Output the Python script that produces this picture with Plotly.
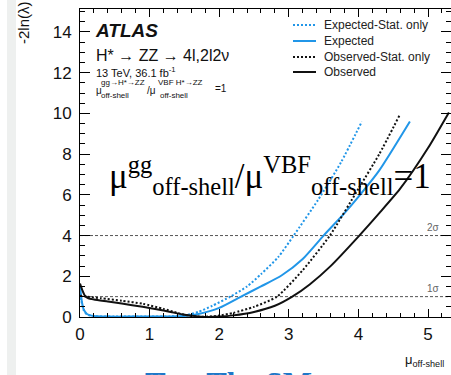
import plotly.graph_objects as go

# ---------------- data ----------------
obs_x = [0, 0.03, 0.07, 0.12, 0.2, 0.4, 0.6, 0.9, 1.1, 1.3, 1.5, 1.7, 1.85, 2.0, 2.2, 2.5, 2.8,
         3.05, 3.3, 3.6, 4.0, 4.3, 4.6, 5.0, 5.3]
obs_y = [1.64, 1.35, 1.05, 0.92, 0.86, 0.76, 0.66, 0.5, 0.38, 0.25, 0.11, 0.03, 0.0, 0.02, 0.08, 0.25, 0.55,
         1.0, 1.6, 2.5, 3.95, 5.1, 6.3, 8.3, 10.05]

obs_stat_x = [0, 0.1, 0.3, 0.6, 0.9, 1.2, 1.4, 1.55, 1.7, 1.85, 2.0, 2.2, 2.5, 2.83, 3.2, 3.59, 4.0, 4.3, 4.59]
obs_stat_y = [1.05, 1.0, 0.92, 0.8, 0.65, 0.4, 0.2, 0.08, 0.02, 0.02, 0.07, 0.2, 0.5, 1.0, 2.3, 4.0, 6.3, 8.0, 9.9]

exp_x = [0, 0.02, 0.05, 0.1, 0.2, 0.4, 0.8, 1.2, 1.5, 1.7, 2.0, 2.3, 2.6, 2.9, 3.2, 3.5, 3.8, 4.0, 4.3, 4.74]
exp_y = [1.55, 0.9, 0.4, 0.15, 0.05, 0.02, 0.02, 0.02, 0.05, 0.15, 0.45, 0.98, 1.5, 2.05, 2.85, 4.0, 5.1, 5.9, 7.2, 9.6]

exp_stat_x = [0, 0.02, 0.05, 0.1, 0.2, 0.5, 1.0, 1.3, 1.5, 1.7, 1.9, 2.16, 2.4, 2.6, 2.85, 3.07, 3.42, 3.75, 4.05]
exp_stat_y = [1.35, 0.8, 0.35, 0.12, 0.04, 0.02, 0.02, 0.03, 0.07, 0.25, 0.55, 1.0, 1.5, 2.1, 2.95, 4.0, 5.75, 7.6, 9.6]

x_ticks = [0, 1, 2, 3, 4, 5]
y_ticks = [0, 2, 4, 6, 8, 10, 12, 14]
sigma_levels = [1, 4]
sigma_labels = ["1σ", "2σ"]
legend_names = ["Expected-Stat. only", "Expected", "Observed-Stat. only", "Observed"]

# ---------------- styling ----------------
BLUE = "#2196e8"
BLACK = "#111111"
SANS = "Liberation Sans, Arial, sans-serif"
SERIF = "Liberation Serif, Times New Roman, serif"

W, H = 451, 375
L, R, T, B = 80, 451, 9, 317


def px(x):
    return (x - L) / (R - L)


def py(y):
    return (B - y) / (B - T)


series = [
    (exp_stat_x, exp_stat_y, BLUE, "2px,2px", legend_names[0]),
    (exp_x, exp_y, BLUE, "solid", legend_names[1]),
    (obs_stat_x, obs_stat_y, BLACK, "2px,2px", legend_names[2]),
    (obs_x, obs_y, BLACK, "solid", legend_names[3]),
]

fig = go.Figure()
for xs, ys, col, dash, name in series:
    fig.add_trace(go.Scatter(x=xs, y=ys, mode="lines", name=name, showlegend=False,
                             line=dict(color=col, width=2, dash=dash, shape="spline", smoothing=0.6)))

shapes = []
annotations = []

# sigma reference lines
for lvl, lab in zip(sigma_levels, sigma_labels):
    shapes.append(dict(type="line", xref="paper", yref="y", x0=0, x1=1, y0=lvl, y1=lvl,
                       line=dict(color="#555555", width=1, dash="3px,2px"), layer="below"))
    annotations.append(dict(text=lab, xref="paper", yref="y", x=px(425), y=lvl, xanchor="left",
                            yanchor="bottom", yshift=1, showarrow=False,
                            font=dict(family=SANS, size=10, color="#666666")))

# grey strip at left (page background)
shapes.append(dict(type="rect", xref="paper", yref="paper", x0=px(7), x1=px(16), y0=py(376), y1=py(-1),
                   fillcolor="#eef0ef", line=dict(width=0), layer="below"))

# manual legend
leg_rows = [25, 41, 57, 72]
for (xs, ys, col, dash, name), ry in zip(series, leg_rows):
    shapes.append(dict(type="line", xref="paper", yref="paper", x0=px(293), x1=px(316), y0=py(ry), y1=py(ry),
                       line=dict(color=col, width=2, dash=dash)))
    annotations.append(dict(text=name, xref="paper", yref="paper", x=px(322), y=py(ry), xanchor="left",
                            yanchor="middle", showarrow=False, font=dict(family=SANS, size=12, color="#222")))


def txt(s, x, y, size, family=SANS, color="#111", xanchor="left", yanchor="middle", **kw):
    annotations.append(dict(text=s, xref="paper", yref="paper", x=px(x), y=py(y), xanchor=xanchor,
                            yanchor=yanchor, showarrow=False, font=dict(family=family, size=size, color=color), **kw))


# ATLAS labels
txt("<b><i>ATLAS</i></b>", 93, 30, 19)
txt("H* → ZZ → 4l,2l2ν", 94, 55, 16)
txt("13 TeV, 36.1 fb<sup>-1</sup>", 94, 72, 11)
txt("μ", 94, 90, 10)
txt("gg→H*→ZZ", 99, 82, 8)
txt("off-shell", 99, 95, 8)
txt("/μ", 145, 90, 10)
txt("VBF H*→ZZ", 156, 82, 8)
txt("off-shell", 158, 95, 8)
txt("=1", 213, 89, 10)

# large overlay formula
txt("μ<sup>gg</sup><sub>off-shell</sub>/μ<sup>VBF</sup><sub>off-shell</sub>=1", 107, 176, 35, family=SERIF,
    color="#000")

# y axis title
txt("-2ln(λ)", 24, 23, 15, xanchor="center", yanchor="middle", textangle=-90)
# x axis title
txt("μ<sub>off-shell</sub>", 403, 360, 13)
# cut-off blue heading at the bottom (only its top edge is visible, as in the reference)
txt("<b>Test The SM</b>", 143, 363.5, 31, family=SERIF, color="#1f78c8", yanchor="top")

axis_common = dict(showgrid=False, zeroline=False, showline=True, linecolor="#000", linewidth=1,
                   mirror="allticks", ticks="inside", tickcolor="#000",
                   tickfont=dict(family=SANS, size=17, color="#111"))

fig.update_layout(
    width=W, height=H,
    margin=dict(l=L, r=W - R, t=T, b=H - B, pad=0),
    paper_bgcolor="white", plot_bgcolor="white",
    showlegend=False,
    shapes=shapes, annotations=annotations,
    xaxis=dict(range=[0, (R - L) / 69.6], tickvals=x_ticks, ticklen=8, ticklabelstandoff=2,
               minor=dict(ticks="inside", dtick=0.2, ticklen=4, tickcolor="#000", showgrid=False),
               **axis_common),
    yaxis=dict(range=[0, (B - T) / 20.36], tickvals=y_ticks, ticklen=10, ticklabelstandoff=4,
               minor=dict(ticks="inside", dtick=0.5, ticklen=5, tickcolor="#000", showgrid=False),
               **axis_common),
)

fig.write_html("out.html")
